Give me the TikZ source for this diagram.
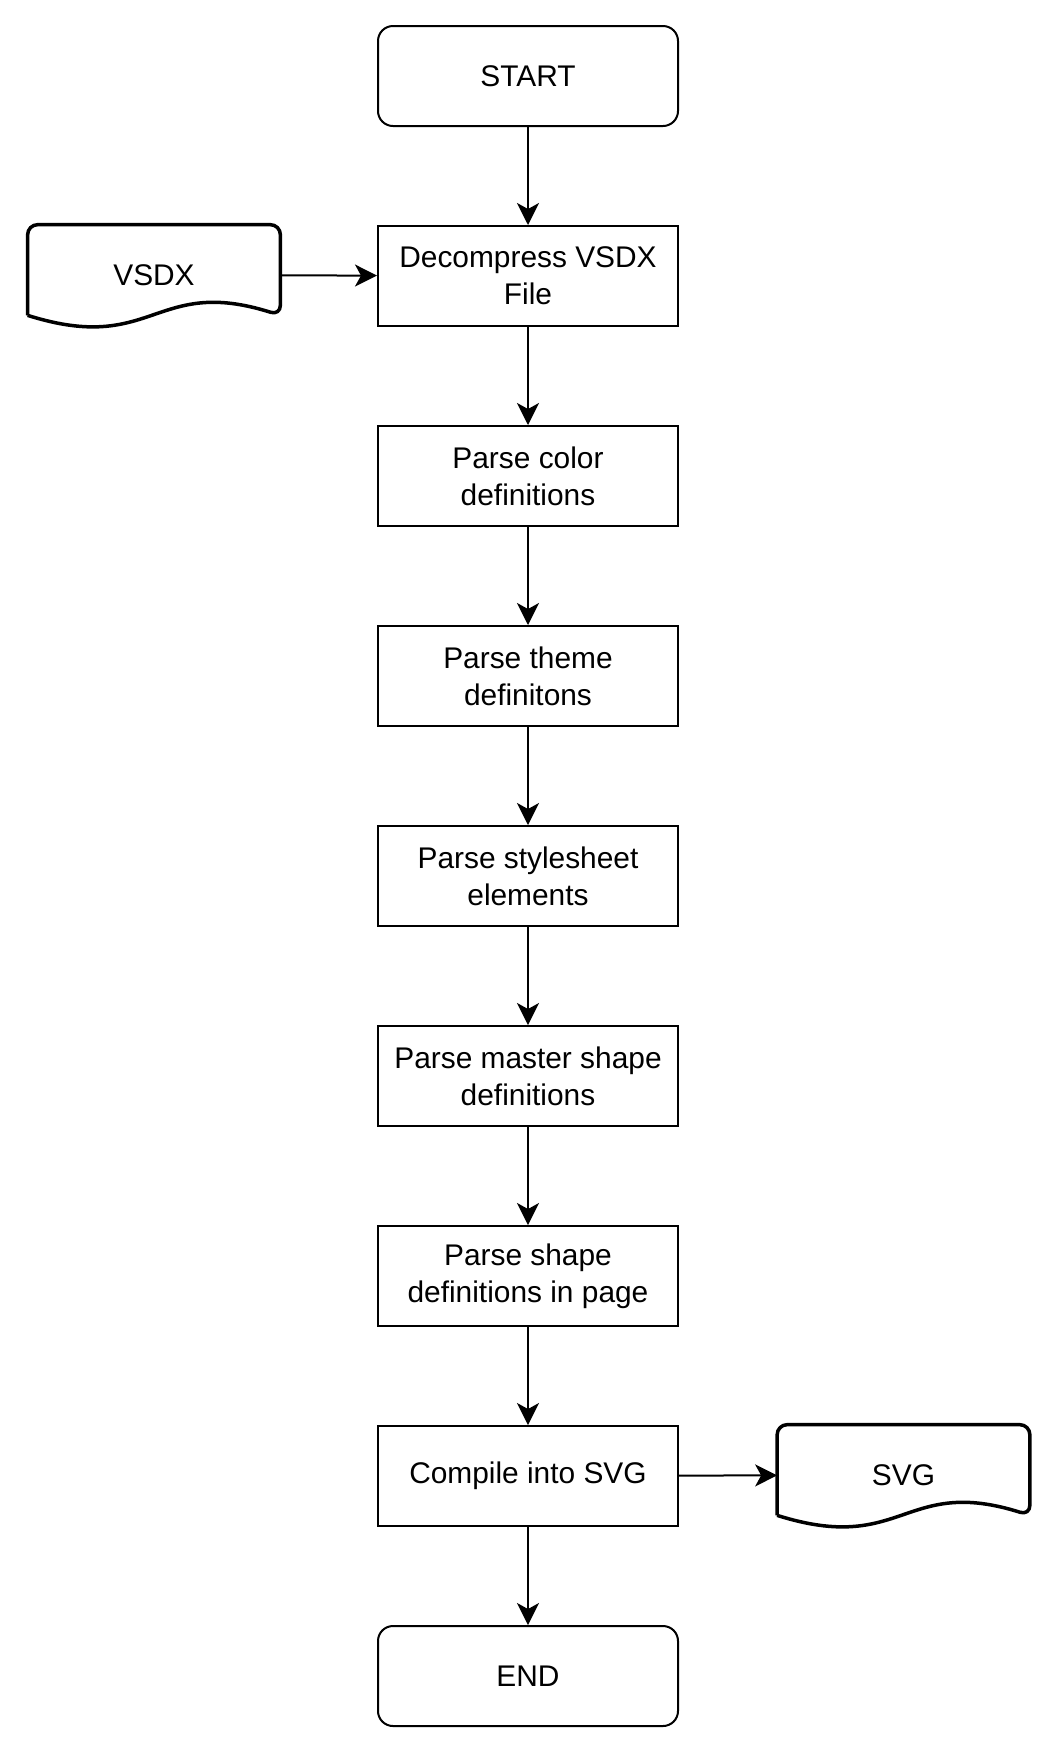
\documentclass[tikz,border=0pt]{standalone}
\usepackage{fontspec}
\setmainfont{Liberation Sans}
\usetikzlibrary{arrows.meta,calc}

% document shape: rounded top, wavy bottom
\newcommand{\docshape}[1]{%
  \draw[docline] ($(#1.south west)+(0,0.2)$) [rounded corners=0.2cm] |- (#1.north)
    -| ($(#1.south east)+(0,0.2)$) [sharp corners]
    .. controls ($(#1.south)+(0,1.0)$) and ($(#1.south)+(0,-0.6)$) .. ($(#1.south west)+(0,0.2)$);
}

\begin{document}
\begin{tikzpicture}[
  every node/.style={font=\fontsize{17}{21}\selectfont, align=center},
  stepbox/.style={draw, line width=0.04cm, minimum width=6cm, minimum height=2cm},
  termbox/.style={stepbox, rounded corners=0.3cm},
  docbox/.style={minimum width=5.04cm, minimum height=2cm},
  docline/.style={line width=0.07cm, line join=round},
  flow/.style={-{Stealth[length=0.44cm, width=0.44cm, inset=0.12cm]}, line width=0.04cm},
]
  \useasboundingbox (0,0) rectangle (21.1,-35.06);

  % Main column
  \node[termbox] (start) at (10.56, -1.52) {START};
  \node[stepbox] (decomp) at (10.56, -5.52) {Decompress VSDX\\File};
  \node[stepbox] (color) at (10.56, -9.52) {Parse color\\definitions};
  \node[stepbox] (theme) at (10.56, -13.52) {Parse theme\\definitons};
  \node[stepbox] (sheet) at (10.56, -17.52) {Parse stylesheet\\elements};
  \node[stepbox] (master) at (10.56, -21.52) {Parse master shape\\definitions};
  \node[stepbox] (shape) at (10.56, -25.52) {Parse shape\\definitions in page};
  \node[stepbox] (compile) at (10.56, -29.52) {Compile into SVG};
  \node[termbox] (stop) at (10.56, -33.52) {END};

  % Input and output documents
  \node[docbox] (vsdx) at (3.08, -5.5) {VSDX};
  \node[docbox] (svg) at (18.07, -29.5) {SVG};
  \docshape{vsdx}
  \docshape{svg}

  % Connections
  \foreach \a/\b in {start/decomp, decomp/color, color/theme, theme/sheet,
                     sheet/master, master/shape, shape/compile, compile/stop}
    \draw[flow] (\a) -- (\b);
  \draw[flow] (vsdx) -- (decomp);
  \draw[flow] (compile) -- (svg);
\end{tikzpicture}
\end{document}
